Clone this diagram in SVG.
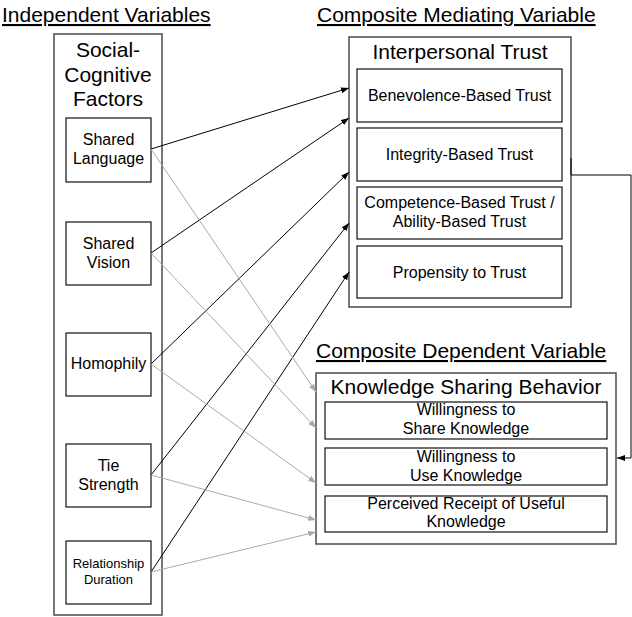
<svg xmlns="http://www.w3.org/2000/svg" width="632" height="617" viewBox="0 0 632 617">
<style>
text{font-family:"Liberation Sans",Arial,sans-serif;fill:#000}
.h{font-size:21px;text-decoration:underline}
.t{font-size:21px;text-anchor:middle}
.s{font-size:16px;text-anchor:middle}
.xs{font-size:13px;text-anchor:middle}
.outer{fill:#fff;stroke:#555;stroke-width:1.6}
.inner{fill:#fff;stroke:#111;stroke-width:1.2}
.bk{fill:none;stroke:#000;stroke-width:1;marker-end:url(#ab)}
.gr{fill:none;stroke:#aaa;stroke-width:1;marker-end:url(#ag)}
</style>
<defs>
<marker id="ab" viewBox="0 0 8 6" refX="8" refY="3" markerWidth="8" markerHeight="6" markerUnits="userSpaceOnUse" orient="auto"><path d="M0,0L8,3L0,6z" fill="#000"/></marker>
<marker id="ag" viewBox="0 0 8 6" refX="8" refY="3" markerWidth="8" markerHeight="6" markerUnits="userSpaceOnUse" orient="auto"><path d="M0,0L8,3L0,6z" fill="#aaa"/></marker>
</defs>
<g id="headings">
<text class="h" x="2" y="22">Independent Variables</text>
<text class="h" x="317" y="22">Composite Mediating Variable</text>
<text class="h" x="316" y="358">Composite Dependent Variable</text>
</g>
<g id="social-cognitive">
<rect class="outer" x="54" y="34" width="108" height="581"/>
<text class="t" x="108" y="57">Social-</text>
<text class="t" x="108" y="82">Cognitive</text>
<text class="t" x="108" y="106">Factors</text>
</g>
<g id="shared-language"><rect class="inner" x="66" y="118" width="85" height="64"/><text class="s" x="108.5" y="145">Shared</text><text class="s" x="108.5" y="164">Language</text></g>
<g id="shared-vision"><rect class="inner" x="66" y="222" width="85" height="63"/><text class="s" x="108.5" y="249">Shared</text><text class="s" x="108.5" y="268">Vision</text></g>
<g id="homophily"><rect class="inner" x="66" y="333" width="85" height="63"/><text class="s" x="108.5" y="369">Homophily</text></g>
<g id="tie-strength"><rect class="inner" x="66" y="444" width="85" height="63"/><text class="s" x="108.5" y="471">Tie</text><text class="s" x="108.5" y="490">Strength</text></g>
<g id="relationship-duration"><rect class="inner" x="66" y="541" width="85" height="63"/><text class="xs" x="108.5" y="568">Relationship</text><text class="xs" x="108.5" y="584">Duration</text></g>

<g id="interpersonal-trust">
<rect class="outer" x="349" y="37" width="222" height="270"/>
<text class="t" x="460" y="59">Interpersonal Trust</text>
</g>
<g id="benevolence"><rect class="inner" x="357" y="69" width="205" height="53"/><text class="s" x="459.5" y="101">Benevolence-Based Trust</text></g>
<g id="integrity"><rect class="inner" x="357" y="128" width="205" height="53"/><text class="s" x="459.5" y="160">Integrity-Based Trust</text></g>
<g id="competence"><rect class="inner" x="357" y="187" width="205" height="52"/><text class="s" x="459.5" y="208">Competence-Based Trust /</text><text class="s" x="459.5" y="227">Ability-Based Trust</text></g>
<g id="propensity"><rect class="inner" x="357" y="246" width="205" height="52"/><text class="s" x="459.5" y="278">Propensity to Trust</text></g>

<g id="knowledge-sharing">
<rect class="outer" x="316" y="373" width="300" height="171"/>
<text class="t" x="466" y="394">Knowledge Sharing Behavior</text>
</g>
<g id="willing-share"><rect class="inner" x="325" y="402" width="282" height="37"/><text class="s" x="466" y="415">Willingness to</text><text class="s" x="466" y="434">Share Knowledge</text></g>
<g id="willing-use"><rect class="inner" x="325" y="448" width="282" height="37"/><text class="s" x="466" y="462">Willingness to</text><text class="s" x="466" y="481">Use Knowledge</text></g>
<g id="perceived"><rect class="inner" x="325" y="496" width="282" height="36"/><text class="s" x="466" y="509">Perceived Receipt of Useful</text><text class="s" x="466" y="527">Knowledge</text></g>

<g id="connectors">
<path class="bk" d="M151,149L349,88"/>
<path class="bk" d="M151,253L349,118"/>
<path class="bk" d="M151,364L349,172"/>
<path class="bk" d="M151,475L349,223"/>
<path class="bk" d="M151,572L349,272"/>
<path class="gr" d="M151,149L316,392"/>
<path class="gr" d="M151,253L316,428"/>
<path class="gr" d="M151,364L316,483"/>
<path class="gr" d="M151,475L316,520"/>
<path class="gr" d="M151,572L316,532"/>
<path class="bk" d="M571,158V175H631V458H617"/>
</g>
</svg>
